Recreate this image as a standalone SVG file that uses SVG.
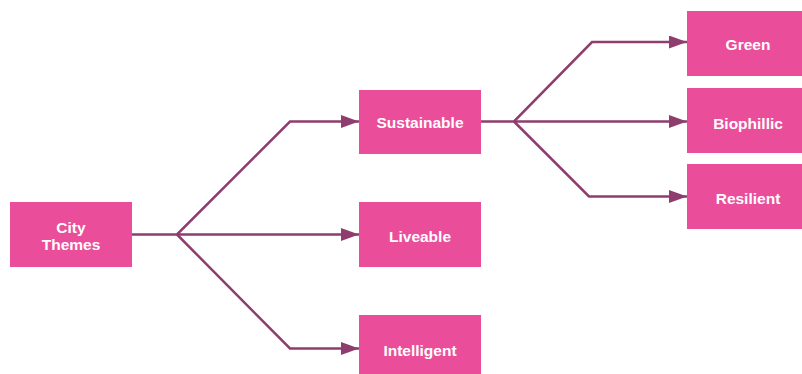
<svg xmlns="http://www.w3.org/2000/svg" width="802" height="374" viewBox="0 0 802 374">
<style>
.box{fill:#EA4E9A}
.lbl{font-family:"Liberation Sans",Arial,sans-serif;font-weight:bold;font-size:15.5px;fill:#FFFFFF;text-anchor:middle}
.edge{fill:none;stroke:#8E3D6E;stroke-width:2.5;stroke-linejoin:miter}
</style>
<defs>
<marker id="arr" viewBox="0 0 18 13" refX="18" refY="6.5" markerWidth="18" markerHeight="13" markerUnits="userSpaceOnUse" orient="auto">
<path d="M0,0 L18,6.5 L0,13 Z" fill="#8E3D6E"/>
</marker>
</defs>
<rect width="802" height="374" fill="#FFFFFF"/>
<g id="connectors">
<path class="edge" d="M132,234.5 L177,234.5 L290,121.5 L359,121.5" marker-end="url(#arr)"/>
<path class="edge" d="M177,234.5 L359,234.5" marker-end="url(#arr)"/>
<path class="edge" d="M177,234.5 L290,348.5 L359,348.5" marker-end="url(#arr)"/>
<path class="edge" d="M481,121.5 L514,121.5 L592,42 L687,42" marker-end="url(#arr)"/>
<path class="edge" d="M514,121.5 L687,121.5" marker-end="url(#arr)"/>
<path class="edge" d="M514,121.5 L589,196.5 L687,196.5" marker-end="url(#arr)"/>
</g>
<g id="city-themes">
<rect class="box" x="10" y="202" width="122" height="65"/>
<text class="lbl" x="71" y="233">City</text>
<text class="lbl" x="71" y="249.5">Themes</text>
</g>
<g id="sustainable">
<rect class="box" x="359" y="90" width="122" height="64"/>
<text class="lbl" x="420" y="127.5">Sustainable</text>
</g>
<g id="liveable">
<rect class="box" x="359" y="202" width="122" height="65"/>
<text class="lbl" x="420" y="241.5">Liveable</text>
</g>
<g id="intelligent">
<rect class="box" x="359" y="315" width="122" height="66"/>
<text class="lbl" x="420" y="356">Intelligent</text>
</g>
<g id="green">
<rect class="box" x="687" y="11" width="122" height="65"/>
<text class="lbl" x="748" y="50">Green</text>
</g>
<g id="biophillic">
<rect class="box" x="687" y="88" width="122" height="65"/>
<text class="lbl" x="748" y="129">Biophillic</text>
</g>
<g id="resilient">
<rect class="box" x="687" y="164" width="122" height="65"/>
<text class="lbl" x="748" y="204">Resilient</text>
</g>
</svg>
